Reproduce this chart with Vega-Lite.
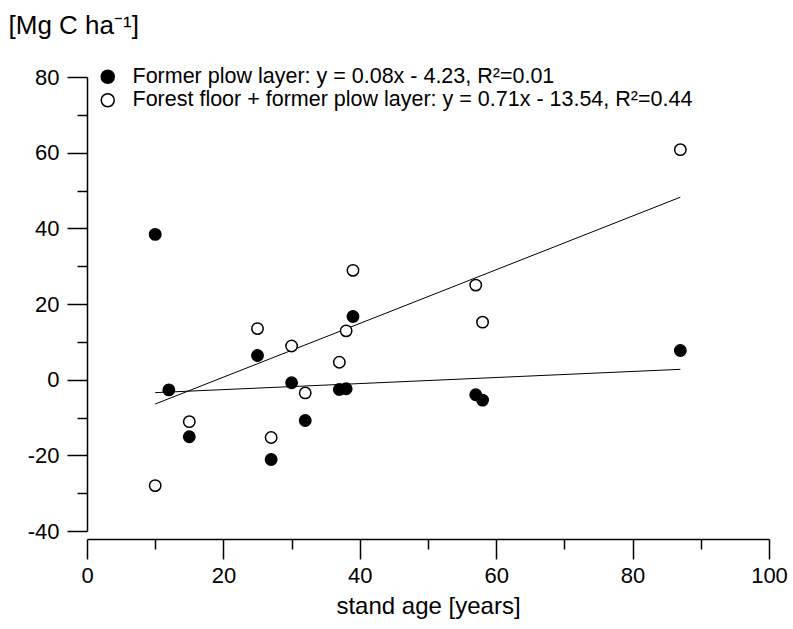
{
  "$schema": "https://vega.github.io/schema/vega-lite/v6.json",
  "width": 682,
  "height": 454,
  "autosize": {"type": "none"},
  "padding": {"left": 87, "top": 77, "right": 24, "bottom": 98},
  "background": "white",
  "config": {
    "view": {"stroke": null},
    "font": "Liberation Sans",
    "axis": {
      "grid": false,
      "domainColor": "black",
      "tickColor": "black",
      "labelColor": "black",
      "titleColor": "black",
      "domainWidth": 1.5,
      "tickWidth": 1.5,
      "labelFont": "Liberation Sans",
      "titleFont": "Liberation Sans",
      "labelFontSize": 22,
      "titleFontSize": 24,
      "titleFontWeight": "normal"
    }
  },
  "datasets": {
    "points": [
      {"age": 10, "carbon": 38.4, "series": "Former plow layer: y = 0.08x - 4.23, R²=0.01"},
      {"age": 12, "carbon": -2.7, "series": "Former plow layer: y = 0.08x - 4.23, R²=0.01"},
      {"age": 15, "carbon": -15.1, "series": "Former plow layer: y = 0.08x - 4.23, R²=0.01"},
      {"age": 25, "carbon": 6.4, "series": "Former plow layer: y = 0.08x - 4.23, R²=0.01"},
      {"age": 27, "carbon": -21.1, "series": "Former plow layer: y = 0.08x - 4.23, R²=0.01"},
      {"age": 30, "carbon": -0.8, "series": "Former plow layer: y = 0.08x - 4.23, R²=0.01"},
      {"age": 32, "carbon": -10.8, "series": "Former plow layer: y = 0.08x - 4.23, R²=0.01"},
      {"age": 37, "carbon": -2.6, "series": "Former plow layer: y = 0.08x - 4.23, R²=0.01"},
      {"age": 38, "carbon": -2.4, "series": "Former plow layer: y = 0.08x - 4.23, R²=0.01"},
      {"age": 39, "carbon": 16.7, "series": "Former plow layer: y = 0.08x - 4.23, R²=0.01"},
      {"age": 57, "carbon": -4.0, "series": "Former plow layer: y = 0.08x - 4.23, R²=0.01"},
      {"age": 58, "carbon": -5.4, "series": "Former plow layer: y = 0.08x - 4.23, R²=0.01"},
      {"age": 87, "carbon": 7.7, "series": "Former plow layer: y = 0.08x - 4.23, R²=0.01"},
      {"age": 10, "carbon": -28.0, "series": "Forest floor + former plow layer: y = 0.71x - 13.54, R²=0.44"},
      {"age": 15, "carbon": -11.1, "series": "Forest floor + former plow layer: y = 0.71x - 13.54, R²=0.44"},
      {"age": 25, "carbon": 13.5, "series": "Forest floor + former plow layer: y = 0.71x - 13.54, R²=0.44"},
      {"age": 27, "carbon": -15.3, "series": "Forest floor + former plow layer: y = 0.71x - 13.54, R²=0.44"},
      {"age": 30, "carbon": 8.9, "series": "Forest floor + former plow layer: y = 0.71x - 13.54, R²=0.44"},
      {"age": 32, "carbon": -3.5, "series": "Forest floor + former plow layer: y = 0.71x - 13.54, R²=0.44"},
      {"age": 37, "carbon": 4.6, "series": "Forest floor + former plow layer: y = 0.71x - 13.54, R²=0.44"},
      {"age": 38, "carbon": 12.9, "series": "Forest floor + former plow layer: y = 0.71x - 13.54, R²=0.44"},
      {"age": 39, "carbon": 28.9, "series": "Forest floor + former plow layer: y = 0.71x - 13.54, R²=0.44"},
      {"age": 57, "carbon": 25.0, "series": "Forest floor + former plow layer: y = 0.71x - 13.54, R²=0.44"},
      {"age": 58, "carbon": 15.2, "series": "Forest floor + former plow layer: y = 0.71x - 13.54, R²=0.44"},
      {"age": 87, "carbon": 60.8, "series": "Forest floor + former plow layer: y = 0.71x - 13.54, R²=0.44"}
    ],
    "lines": [
      {"age": 10, "carbon": -3.43, "series": "plow"},
      {"age": 87, "carbon": 2.73, "series": "plow"},
      {"age": 10, "carbon": -6.44, "series": "forest"},
      {"age": 87, "carbon": 48.23, "series": "forest"}
    ]
  },
  "resolve": {"axis": {"x": "independent", "y": "independent"}},
  "layer": [
    {
      "data": {"name": "lines"},
      "mark": {"type": "line", "color": "black", "strokeWidth": 1},
      "encoding": {
        "x": {
          "field": "age",
          "type": "quantitative",
          "scale": {"domain": [0, 100], "nice": false, "zero": false},
          "axis": {
            "orient": "bottom",
            "values": [0, 20, 40, 60, 80, 100],
            "labelExpr": "'' + datum.value",
            "tickSize": 20,
            "offset": 8,
            "labelPadding": 6,
            "title": "stand age [years]",
            "titlePadding": 8,
            "labelFlush": false,
            "labelOverlap": false
          }
        },
        "y": {
          "field": "carbon",
          "type": "quantitative",
          "scale": {"domain": [-40, 80], "nice": false, "zero": false},
          "axis": {
            "orient": "left",
            "values": [-40, -20, 0, 20, 40, 60, 80],
            "labelExpr": "'' + datum.value",
            "tickSize": 20,
            "labelPadding": 8,
            "labelFlush": false,
            "labelOverlap": false,
            "title": "[Mg C ha⁻¹]",
            "titleFontSize": 26,
            "titleAngle": 0,
            "titleAlign": "left",
            "titleBaseline": "alphabetic",
            "titleX": -79,
            "titleY": -44
          }
        },
        "detail": {"field": "series"}
      }
    },
    {
      "data": {"name": "points"},
      "mark": {"type": "circle", "stroke": "black", "strokeWidth": 1.5, "size": 130, "opacity": 1},
      "encoding": {
        "x": {
          "field": "age",
          "type": "quantitative",
          "axis": {
            "orient": "bottom",
            "values": [10, 30, 50, 70, 90],
            "labels": false,
            "domain": false,
            "tickSize": 10,
            "offset": 8,
            "title": null
          }
        },
        "y": {
          "field": "carbon",
          "type": "quantitative",
          "axis": {
            "orient": "left",
            "values": [-30, -10, 10, 30, 50, 70],
            "labels": false,
            "domain": false,
            "tickSize": 10,
            "title": null
          }
        },
        "fill": {
          "field": "series",
          "type": "nominal",
          "scale": {
            "domain": ["Former plow layer: y = 0.08x - 4.23, R²=0.01", "Forest floor + former plow layer: y = 0.71x - 13.54, R²=0.44"],
            "range": ["black", "white"]
          },
          "legend": {
            "orient": "none",
            "legendX": 10,
            "legendY": -11,
            "title": null,
            "labelFontSize": 21.5,
            "labelFont": "Liberation Sans",
            "labelColor": "black",
            "labelLimit": 0,
            "symbolType": "circle",
            "symbolSize": 170,
            "symbolStrokeColor": "black",
            "symbolStrokeWidth": 1.5,
            "symbolOpacity": 1,
            "rowPadding": 0.5,
            "labelOffset": 14
          }
        }
      }
    }
  ]
}
